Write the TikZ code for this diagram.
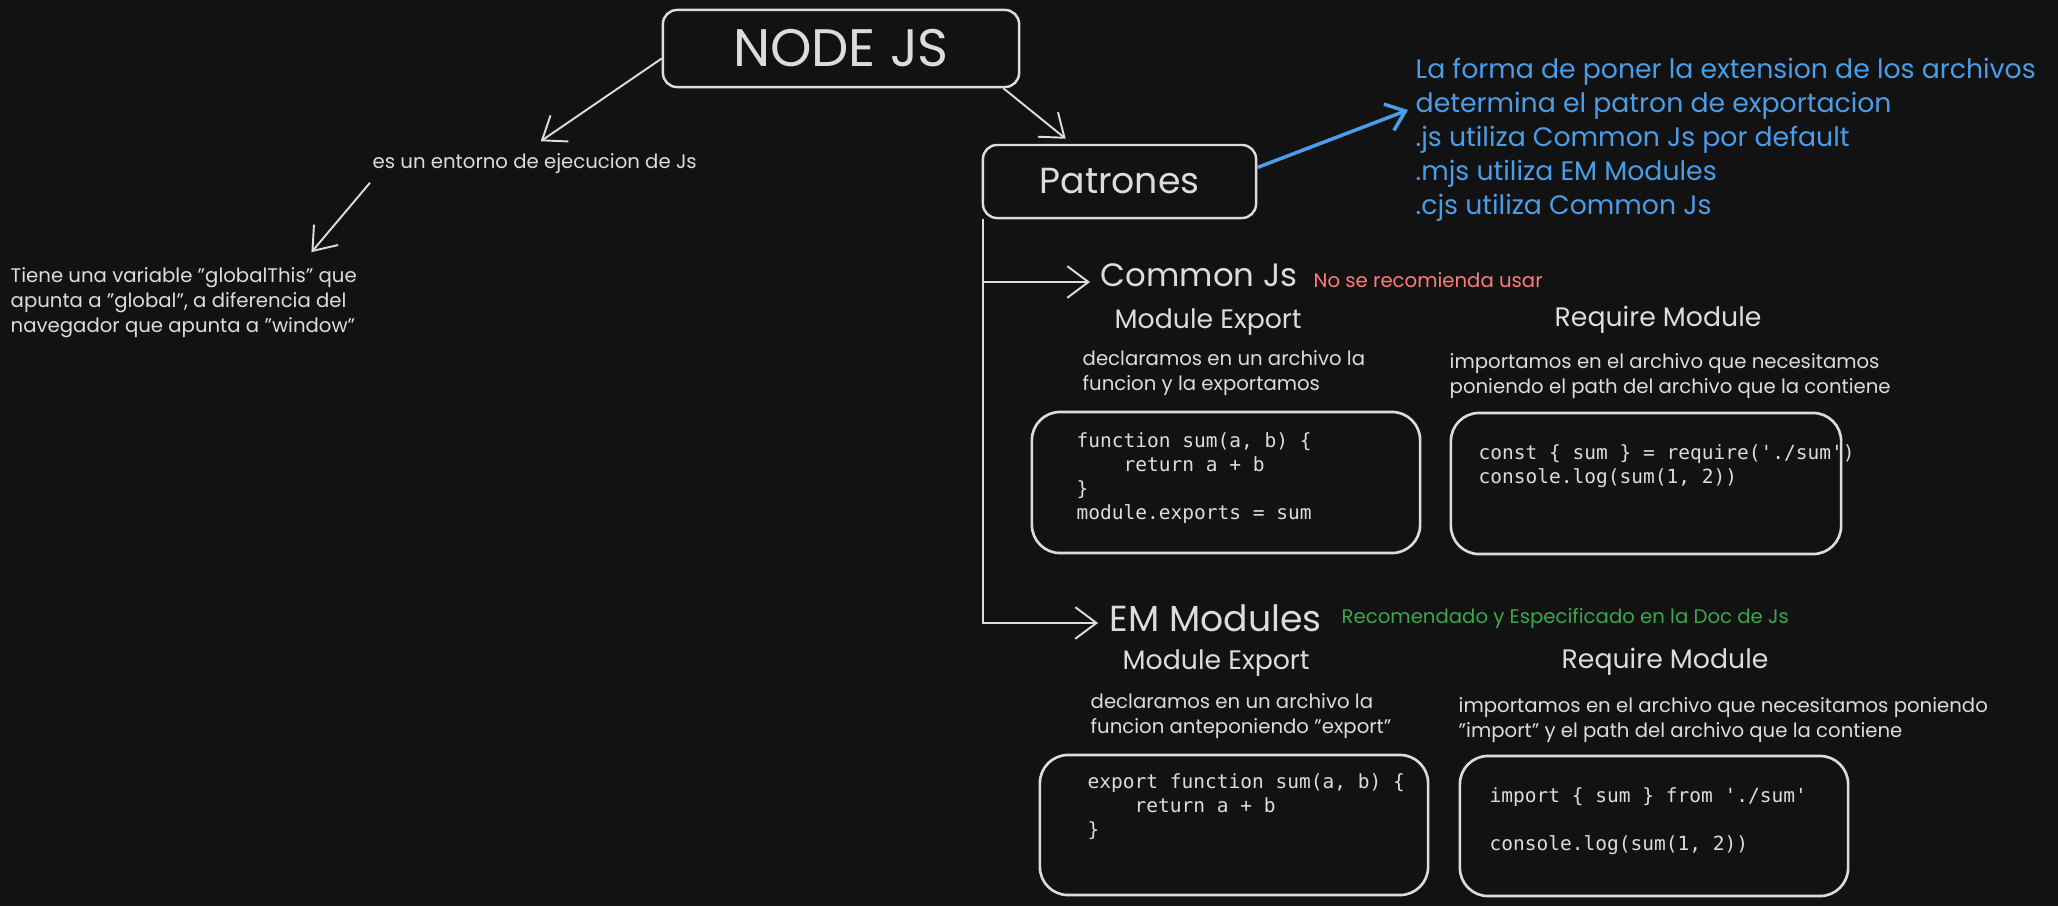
\documentclass[tikz,border=0pt]{standalone}
\usepackage{fontspec}
\setmainfont{Poppins}
\newfontfamily\codefont{DejaVu Sans Mono}
\usetikzlibrary{positioning,calc,arrows.meta}

\definecolor{bgdark}{HTML}{121212}
\definecolor{inkgray}{HTML}{DCDCDC}
\definecolor{noteblue}{HTML}{4A9DE8}
\definecolor{notered}{HTML}{FF7B7B}
\definecolor{notegreen}{HTML}{3AA84A}

\newcommand{\txtS}{\fontsize{5.6pt}{7.1pt}\selectfont}
\newcommand{\txtM}{\fontsize{7.6pt}{9.7pt}\selectfont}
\newcommand{\txtL}{\fontsize{10.3pt}{12pt}\selectfont}
\newcommand{\txtLn}{\fontsize{9.2pt}{12pt}\selectfont}
\newcommand{\txtXL}{\fontsize{15pt}{17pt}\selectfont}
\newcommand{\codetxt}{\codefont\fontsize{5.55pt}{6.83pt}\selectfont}
\newcommand{\qq}[1]{\symbol{34}#1\symbol{34}}

\begin{document}
\begin{tikzpicture}[
		x=0.01cm, y=-0.01cm,
		every node/.style={text=inkgray},
		txt/.style={anchor=west, inner sep=0pt, align=left},
		mainbox/.style={draw=inkgray, line width=0.7pt, rounded corners=4pt},
		codebox/.style={draw=inkgray, line width=0.75pt, rounded corners=8pt,
			minimum width=3.88cm, minimum height=1.41cm},
		arr/.style={draw=inkgray, line width=0.55pt, -{Straight Barb[length=6pt,width=9pt]}},
		bluearr/.style={draw=noteblue, line width=1pt, -{Straight Barb[length=5pt,width=8pt]}}
	]
	\fill[bgdark] (0,0) rectangle (2058,906);
	\useasboundingbox (0,0) rectangle (2058,906);

	% raiz
	\node[mainbox, minimum width=3.56cm, minimum height=0.77cm, font=\txtXL] (nodejs) at (841,48.5) {NODE JS};
	\node[txt, font=\txtS] (entorno) at (372,164) {es un entorno de ejecucion de Js};
	\node[txt, font=\txtS] (tiene) at (10,303) {Tiene una variable \qq{globalThis} que\\apunta a \qq{global}, a diferencia del\\navegador que apunta a \qq{window}};

	\draw[arr] ($(nodejs.west)+(0,10)$) -- ($(entorno.north)+(6,-12)$);
	\draw[arr] ($(entorno.south west)+(-2,8)$) -- ($(tiene.north east)+(-46,-15)$);

	% patrones
	\node[mainbox, minimum width=2.73cm, minimum height=0.73cm, font=\txtL] (patrones) at (1119.5,181.5) {Patrones};
	\node[txt, font=\txtM, text=noteblue] (extension) at (1415,140) {La forma de poner la extension de los archivos\\determina el patron de exportacion\\.js utiliza Common Js por default\\.mjs utiliza EM Modules\\.cjs utiliza Common Js};

	\draw[arr] ($(nodejs.south east)+(-17,0)$) -- ($(patrones.north west)+(84,-5)$);
	\draw[bluearr] ($(patrones.east)+(0,-14)$) -- ($(extension.west)+(-7,-30)$);

	% common js
	\node[txt, font=\txtLn] (commonjs) at (1100,275) {Common Js};
	\node[txt, font=\txtS, text=notered] (norec) at (1313,280) {No se recomienda usar};
	\node[txt, font=\txtM] (cjsexp) at (1114,322) {Module Export};
	\node[txt, font=\txtM] (cjsreq) at (1554,320) {Require Module};
	\node[txt, font=\txtS] (cjsexpnote) at (1082,373) {declaramos en un archivo la\\funcion y la exportamos};
	\node[txt, font=\txtS] (cjsreqnote) at (1449,376) {importamos en el archivo que necesitamos\\poniendo el path del archivo que la contiene};
	\node[codebox] (cjsexpbox) at (1226,482.5) {};
	\node[codebox, minimum width=3.90cm] (cjsreqbox) at (1646,483.5) {};
	\node[txt, font=\codetxt] (cjsexpcode) at (1076,478) {function sum(a, b) \{\\\hspace*{4\fontcharwd\font`0}return a + b\\\}\\module.exports = sum};
	\node[txt, font=\codetxt] (cjsreqcode) at (1478,466) {const \{ sum \} = require('./sum')\\console.log(sum(1, 2))};

	% em modules
	\node[txt, font=\txtL] (emmod) at (1109,618) {EM Modules};
	\node[txt, font=\txtS, text=notegreen] (recom) at (1341,619) {Recomendado y Especificado en la Doc de Js};
	\node[txt, font=\txtM] (esmexp) at (1122,663) {Module Export};
	\node[txt, font=\txtM] (esmreq) at (1561,662) {Require Module};
	\node[txt, font=\txtS] (esmexpnote) at (1090,716) {declaramos en un archivo la\\funcion anteponiendo \qq{export}};
	\node[txt, font=\txtS] (esmreqnote) at (1458,720) {importamos en el archivo que necesitamos poniendo\\\qq{import} y el path del archivo que la contiene};
	\node[codebox, minimum height=1.40cm] (esmexpbox) at (1234,825) {};
	\node[codebox, minimum height=1.40cm] (esmreqbox) at (1654,826) {};
	\node[txt, font=\codetxt] (esmexpcode) at (1087,807) {export function sum(a, b) \{\\\hspace*{4\fontcharwd\font`0}return a + b\\\}};
	\node[txt, font=\codetxt] (esmreqcode) at (1489,821) {import \{ sum \} from './sum'\\[6.83pt]console.log(sum(1, 2))};

	% ramas desde patrones
	\coordinate (trunk) at ($(patrones.south west)+(1,0)$);
	\draw[arr] ($(trunk |- commonjs.west)+(0,7)$) -- ($(commonjs.west)+(-10,7)$);
	\draw[arr] (trunk) |- ($(emmod.west)+(-11,5)$);
\end{tikzpicture}
\end{document}
